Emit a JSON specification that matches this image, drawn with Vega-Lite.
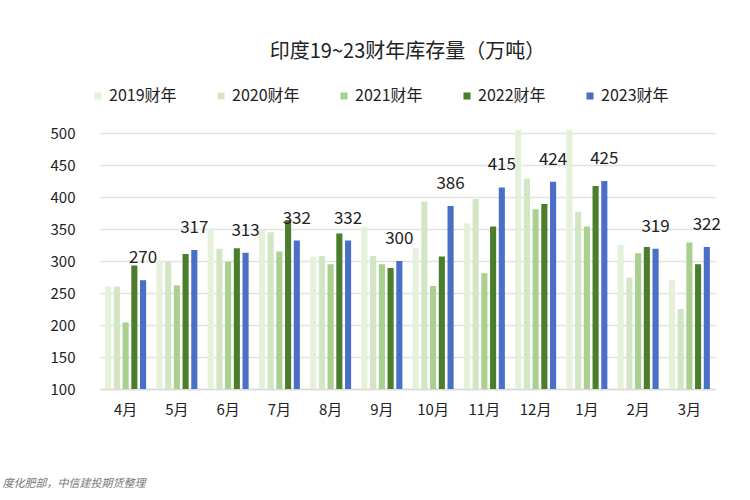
{
  "$schema": "https://vega.github.io/schema/vega-lite/v6.json",
  "description": "印度19~23财年库存量",
  "autosize": {"type": "none"},
  "padding": {"left": 100, "top": 133, "right": 35, "bottom": 111},
  "width": 615,
  "height": 256,
  "background": "white",
  "title": {
    "text": "印度19~23财年库存量（万吨）",
    "fontSize": 20,
    "font": "Noto Sans CJK SC",
    "fontWeight": "normal",
    "color": "#222222",
    "anchor": "middle",
    "offset": 26
  },
  "config": {
    "font": "Noto Sans CJK SC",
    "view": {"stroke": null}
  },
  "data": {
    "values": [
      {"month": "4月", "year": "2019财年", "value": 260},
      {"month": "4月", "year": "2020财年", "value": 260},
      {"month": "4月", "year": "2021财年", "value": 204},
      {"month": "4月", "year": "2022财年", "value": 293},
      {"month": "4月", "year": "2023财年", "value": 270},
      {"month": "5月", "year": "2019财年", "value": 301},
      {"month": "5月", "year": "2020财年", "value": 299},
      {"month": "5月", "year": "2021财年", "value": 262},
      {"month": "5月", "year": "2022财年", "value": 311},
      {"month": "5月", "year": "2023财年", "value": 317},
      {"month": "6月", "year": "2019财年", "value": 351},
      {"month": "6月", "year": "2020财年", "value": 319},
      {"month": "6月", "year": "2021财年", "value": 299},
      {"month": "6月", "year": "2022财年", "value": 320},
      {"month": "6月", "year": "2023财年", "value": 313},
      {"month": "7月", "year": "2019财年", "value": 348},
      {"month": "7月", "year": "2020财年", "value": 345},
      {"month": "7月", "year": "2021财年", "value": 315},
      {"month": "7月", "year": "2022财年", "value": 364},
      {"month": "7月", "year": "2023财年", "value": 332},
      {"month": "8月", "year": "2019财年", "value": 307},
      {"month": "8月", "year": "2020财年", "value": 308},
      {"month": "8月", "year": "2021财年", "value": 295},
      {"month": "8月", "year": "2022财年", "value": 343},
      {"month": "8月", "year": "2023财年", "value": 332},
      {"month": "9月", "year": "2019财年", "value": 354},
      {"month": "9月", "year": "2020财年", "value": 308},
      {"month": "9月", "year": "2021财年", "value": 295},
      {"month": "9月", "year": "2022财年", "value": 289},
      {"month": "9月", "year": "2023财年", "value": 300},
      {"month": "10月", "year": "2019财年", "value": 320},
      {"month": "10月", "year": "2020财年", "value": 393},
      {"month": "10月", "year": "2021财年", "value": 261},
      {"month": "10月", "year": "2022财年", "value": 307},
      {"month": "10月", "year": "2023财年", "value": 386},
      {"month": "11月", "year": "2019财年", "value": 359},
      {"month": "11月", "year": "2020财年", "value": 397},
      {"month": "11月", "year": "2021财年", "value": 281},
      {"month": "11月", "year": "2022财年", "value": 354},
      {"month": "11月", "year": "2023财年", "value": 415},
      {"month": "12月", "year": "2019财年", "value": 505},
      {"month": "12月", "year": "2020财年", "value": 429},
      {"month": "12月", "year": "2021财年", "value": 381},
      {"month": "12月", "year": "2022财年", "value": 389},
      {"month": "12月", "year": "2023财年", "value": 424},
      {"month": "1月", "year": "2019财年", "value": 505},
      {"month": "1月", "year": "2020财年", "value": 377},
      {"month": "1月", "year": "2021财年", "value": 354},
      {"month": "1月", "year": "2022财年", "value": 417},
      {"month": "1月", "year": "2023财年", "value": 425},
      {"month": "2月", "year": "2019财年", "value": 325},
      {"month": "2月", "year": "2020财年", "value": 274},
      {"month": "2月", "year": "2021财年", "value": 312},
      {"month": "2月", "year": "2022财年", "value": 322},
      {"month": "2月", "year": "2023财年", "value": 319},
      {"month": "3月", "year": "2019财年", "value": 270},
      {"month": "3月", "year": "2020财年", "value": 225},
      {"month": "3月", "year": "2021财年", "value": 329},
      {"month": "3月", "year": "2022财年", "value": 295},
      {"month": "3月", "year": "2023财年", "value": 322}
    ]
  },
  "encoding": {
    "x": {
      "field": "month",
      "type": "nominal",
      "sort": null,
      "scale": {"paddingInner": 0.2, "paddingOuter": 0.1},
      "axis": {
        "title": "度化肥部，中信建投期货整理",
        "titleFont": "Noto Sans CJK SC",
        "titleFontSize": 11,
        "titleFontStyle": "italic",
        "titleFontWeight": "normal",
        "titleColor": "#777777",
        "titleAnchor": "start",
        "titleAlign": "left",
        "titleX": -98,
        "titleY": 88,
        "labelAngle": 0,
        "labelFontSize": 15,
        "labelColor": "#222222",
        "labelPadding": 13,
        "ticks": false,
        "domainColor": "#d9d9d9",
        "domainWidth": 1.5
      }
    },
    "xOffset": {
      "field": "year",
      "type": "nominal",
      "scale": {"paddingInner": 0.3}
    },
    "y": {
      "field": "value",
      "type": "quantitative",
      "scale": {"domain": [100, 500], "zero": false, "nice": false},
      "axis": {
        "title": null,
        "values": [100, 150, 200, 250, 300, 350, 400, 450, 500],
        "labelFontSize": 15,
        "labelColor": "#222222",
        "labelPadding": 25,
        "ticks": false,
        "domain": false,
        "gridColor": "#e3e3e3",
        "gridWidth": 1.5
      }
    }
  },
  "layer": [
    {
      "mark": {"type": "bar", "clip": false},
      "encoding": {
        "y2": {"datum": 100},
        "color": {
          "field": "year",
          "type": "nominal",
          "scale": {
            "domain": ["2019财年", "2020财年", "2021财年", "2022财年", "2023财年"],
            "range": ["#e6f1dc", "#d2e6c3", "#a9d08e", "#4b7e2c", "#4a6fc6"]
          },
          "legend": {
            "title": null,
            "orient": "none",
            "direction": "horizontal",
            "legendX": -10,
            "legendY": -45,
            "symbolType": "square",
            "symbolSize": 50,
            "labelFontSize": 16,
            "labelColor": "#222222",
            "columnPadding": 36,
            "labelOffset": 3
          }
        }
      }
    },
    {
      "transform": [{"filter": "datum.year == '2023财年'"}],
      "mark": {
        "type": "text",
        "baseline": "middle",
        "align": "center",
        "dy": -22,
        "fontSize": 17,
        "color": "#222222"
      },
      "encoding": {
        "text": {"field": "value", "type": "quantitative"}
      }
    }
  ]
}
